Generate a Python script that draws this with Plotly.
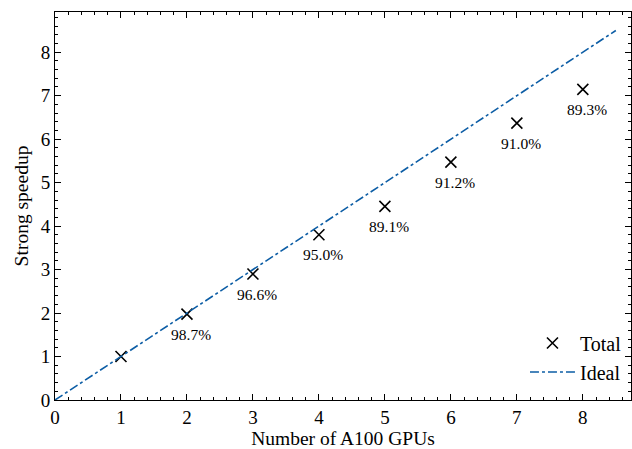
import plotly.graph_objects as go

gpus = [1, 2, 3, 4, 5, 6, 7, 8]
speedup = [1.0, 1.974, 2.898, 3.80, 4.455, 5.472, 6.37, 7.144]
eff_labels = ["", "98.7%", "96.6%", "95.0%", "89.1%", "91.2%", "91.0%", "89.3%"]
ideal_x = [0, 8.5]
ideal_y = [0, 8.5]

FONT = "Liberation Serif"

fig = go.Figure()
fig.add_trace(go.Scatter(
    x=gpus, y=speedup, mode="markers", name="Total",
    marker=dict(symbol="x-thin-open", size=11, color="black",
                line=dict(color="black", width=1.6)),
))
fig.add_trace(go.Scatter(
    x=ideal_x, y=ideal_y, mode="lines", name="Ideal",
    line=dict(color="#0C5DA5", width=1.6, dash="dashdot"),
))

for x, y, t in zip(gpus, speedup, eff_labels):
    if t:
        fig.add_annotation(x=x, y=y, text=t, showarrow=False, xshift=4, yshift=-20,
                           font=dict(family=FONT, size=15.5, color="black"))

axis_common = dict(
    showgrid=False, zeroline=False, showline=True, linecolor="black", linewidth=1,
    mirror="ticks", ticks="inside", ticklen=6, tickwidth=1, tickcolor="black",
    tickfont=dict(family=FONT, size=19, color="black"),
    minor=dict(ticks="inside", ticklen=3, tickwidth=1, tickcolor="black", dtick=0.2),
    dtick=1, tick0=0, automargin=False,
)

fig.update_xaxes(range=[0, 8.73], title=dict(text="Number of A100 GPUs",
                 font=dict(family=FONT, size=19.5, color="black"), standoff=6), **axis_common)
fig.update_yaxes(range=[0, 8.925], title=dict(text="Strong speedup",
                 font=dict(family=FONT, size=19.5, color="black"), standoff=6), **axis_common)

fig.update_layout(
    width=632, height=449,
    margin=dict(l=55, r=1, t=12, b=49),
    plot_bgcolor="white", paper_bgcolor="white",
    font=dict(family=FONT, color="black"),
    legend=dict(x=0.993, y=0.022, xanchor="right", yanchor="bottom",
                bgcolor="rgba(0,0,0,0)", font=dict(family=FONT, size=20),
                itemwidth=45, tracegroupgap=0),
)

fig.write_html("out.html", config={"displayModeBar": False},
               post_script="document.body.style.margin='0';document.body.style.overflow='hidden';")
